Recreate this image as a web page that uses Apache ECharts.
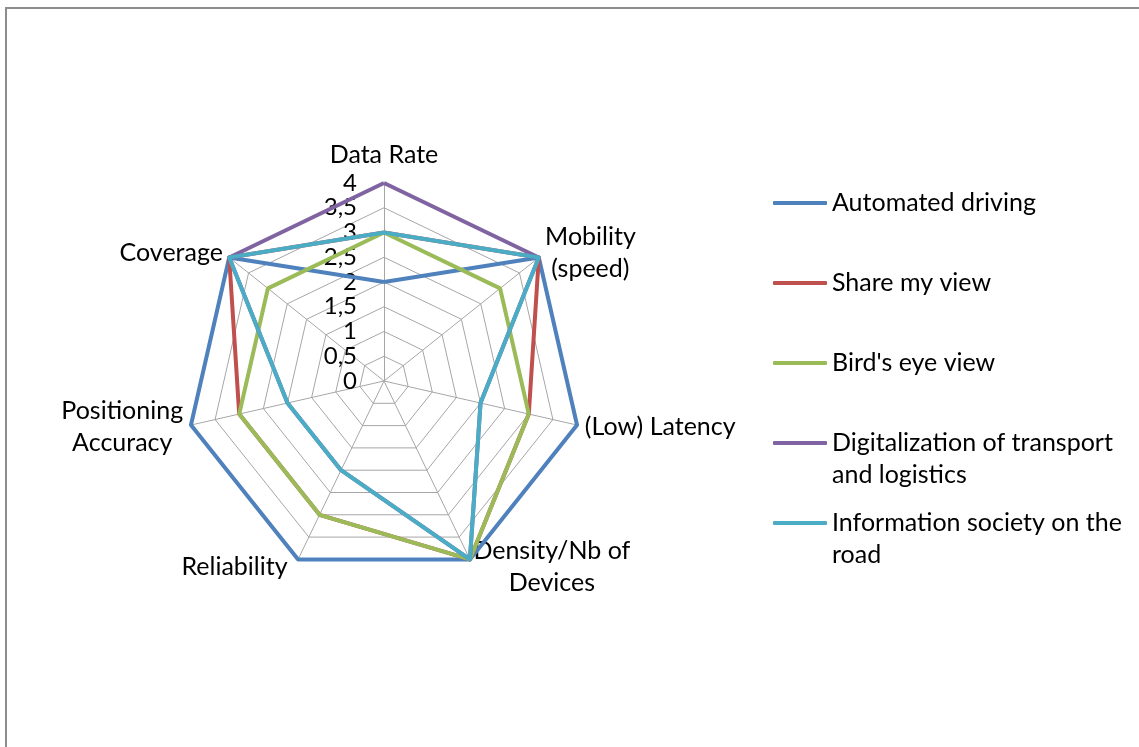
<!DOCTYPE html>
<html>
<head>
<meta charset="utf-8">
<script src="https://cdn.jsdelivr.net/npm/echarts@6/dist/echarts.min.js"></script>
<style>
html,body{margin:0;padding:0;background:#fff;}
#frame{position:absolute;left:5px;top:7px;width:1200px;height:800px;border-left:2px solid #8d8d8d;border-top:2px solid #8d8d8d;box-sizing:border-box;}
#chart{position:absolute;left:0;top:0;width:1139px;height:747px;}
</style>
</head>
<body>
<div id="frame"></div>
<div id="chart"></div>
<script>
// Categories in clockwise order (as in the original chart)
const categories = ['Data Rate', 'Mobility\n(speed)', '(Low) Latency', 'Density/Nb of\nDevices', 'Reliability', 'Positioning\nAccuracy', 'Coverage'];
const seriesNames = ['Automated driving', 'Share my view', "Bird's eye view", 'Digitalization of transport and logistics', 'Information society on the road'];
const legendLabels = ['Automated driving', 'Share my view', "Bird's eye view", 'Digitalization of transport\nand logistics', 'Information society on the\nroad'];
const automatedDriving = [2, 4, 4, 4, 4, 4, 4];
const shareMyView = [3, 4, 3, 4, 3, 3, 4];
const birdsEyeView = [3, 3, 3, 4, 3, 3, 3];
const digitalization = [4, 4, 2, 4, 2, 2, 4];
const informationSociety = [3, 4, 2, 4, 2, 2, 4];
const colors = ['#4F81BD', '#C0504D', '#9BBB59', '#8064A2', '#4BACC6'];
const axisMin = 0;
const axisMax = 4;

const FONT = 'Lato';
const FS = 25;
const values = [automatedDriving, shareMyView, birdsEyeView, digitalization, informationSociety];
// ECharts radar runs counter-clockwise; reorder so the categories go clockwise
const order = [0, 6, 5, 4, 3, 2, 1];
const namePadding = {4: [0, 7, 0, 0]};

const chart = echarts.init(document.getElementById('chart'));
chart.setOption({
  animation: false,
  color: colors,
  textStyle: {fontFamily: FONT},
  legend: {
    orient: 'vertical',
    left: 768,
    top: 150,
    itemGap: -16,
    itemWidth: 54,
    itemHeight: 4,
    icon: 'roundRect',
    textStyle: {fontFamily: FONT, fontSize: FS, color: '#000', lineHeight: 32},
    formatter: function (name) {
      const lbl = legendLabels[seriesNames.indexOf(name)];
      return lbl.indexOf('\n') >= 0 ? '\n' + lbl : '\n' + lbl + '\n';
    },
    data: seriesNames
  },
  radar: {
    center: [384, 381],
    radius: 198,
    shape: 'polygon',
    splitNumber: 8,
    startAngle: 90,
    axisName: {
      color: '#000', fontFamily: FONT, fontSize: FS, lineHeight: 32,
      formatter: function (n) {
        return n.split('\n').map(function (l) { return '{c|' + l + '}'; }).join('\n');
      },
      rich: {c: {align: 'center', color: '#000', fontFamily: FONT, fontSize: FS, lineHeight: 32}}
    },
    nameGap: 8,
    splitLine: {lineStyle: {color: '#a6a6a6', width: 1}},
    splitArea: {show: false},
    axisLine: {lineStyle: {color: '#a6a6a6', width: 1}},
    axisLabel: {show: false},
    indicator: order.map(function (ci, i) {
      const ind = {name: categories[ci], min: axisMin, max: axisMax};
      if (namePadding[ci]) ind.nameTextStyle = {padding: namePadding[ci]};
      if (i === 0) {
        ind.axisLabel = {show: true, showMinLabel: true, showMaxLabel: true, hideOverlap: false,
          color: '#000', fontFamily: FONT, fontSize: 24, margin: 27,
          formatter: function (v) { return String(v).replace('.', ','); }};
      }
      return ind;
    })
  },
  series: [{
    type: 'radar',
    symbol: 'none',
    lineStyle: {width: 4},
    data: seriesNames.map(function (n, i) {
      return {
        name: n,
        value: order.map(function (ci) { return values[i][ci]; }),
        lineStyle: {color: colors[i], width: 4},
        itemStyle: {color: colors[i]}
      };
    })
  }]
});
</script>
</body>
</html>
